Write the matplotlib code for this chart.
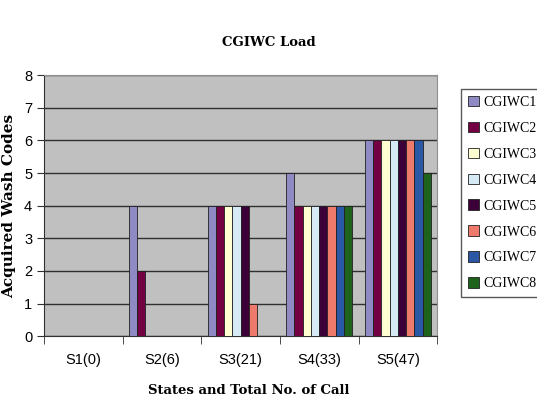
import matplotlib.pyplot as plt
import numpy as np

# Data
states = ['S1(0)', 'S2(6)', 'S3(21)', 'S4(33)', 'S5(47)']
series = ['CGIWC1', 'CGIWC2', 'CGIWC3', 'CGIWC4',
          'CGIWC5', 'CGIWC6', 'CGIWC7', 'CGIWC8']
cgiwc1 = [0, 4, 4, 5, 6]
cgiwc2 = [0, 2, 4, 4, 6]
cgiwc3 = [0, 0, 4, 4, 6]
cgiwc4 = [0, 0, 4, 4, 6]
cgiwc5 = [0, 0, 4, 4, 6]
cgiwc6 = [0, 0, 1, 4, 6]
cgiwc7 = [0, 0, 0, 4, 6]
cgiwc8 = [0, 0, 0, 4, 5]
values = [cgiwc1, cgiwc2, cgiwc3, cgiwc4, cgiwc5, cgiwc6, cgiwc7, cgiwc8]

colors = ['#8F8AC4', '#740044', '#FFFFD2', '#D6EAF6',
          '#3C0038', '#EE7A6C', '#2B58A4', '#1F621C']

fig = plt.figure(figsize=(5.37, 4.04), dpi=100)
ax = fig.add_axes([0.082, 0.168, 0.732, 0.646])
ax.set_facecolor('#C0C0C0')

x = np.arange(len(states))
group = 0.84
w = group / len(series)
for i, (name, vals) in enumerate(zip(series, values)):
    pos = x - group / 2 + w * (i + 0.5)
    ax.bar(pos, vals, width=w, color=colors[i], edgecolor='#202020',
           linewidth=0.6, label=name, zorder=3)

ax.set_xlim(-0.5, len(states) - 0.5)
ax.set_ylim(0, 8)
ax.set_yticks(range(0, 9))
ax.yaxis.grid(True, color='#303030', linewidth=1.0, zorder=1)
ax.set_axisbelow(True)

# category labels centred, ticks at the boundaries
ax.set_xticks(x)
ax.set_xticklabels(states, fontsize=10.5, family='Liberation Sans')
ax.tick_params(axis='x', which='major', length=0, pad=12)
ax.set_xticks(np.arange(-0.5, len(states)), minor=True)
ax.tick_params(axis='x', which='minor', length=6, direction='out', color='#303030')
ax.tick_params(axis='y', length=5, direction='out', color='#303030', labelsize=10.5)
for lab in ax.get_yticklabels():
    lab.set_family('Liberation Sans')

for side in ['top', 'right']:
    ax.spines[side].set_color('#909090')
for side in ['left', 'bottom']:
    ax.spines[side].set_color('#303030')

ax.set_ylabel('Acquired Wash Codes', fontsize=11, fontweight='bold',
              family='DejaVu Serif', labelpad=6)
fig.text(0.463, 0.025, 'States and Total No. of Call', ha='center',
         fontsize=9.5, fontweight='bold', family='DejaVu Serif')
fig.text(0.5, 0.885, 'CGIWC Load', ha='center', fontsize=9.5,
         fontweight='bold', family='DejaVu Serif')

leg = fig.legend(loc='upper left', bbox_to_anchor=(0.858, 0.78),
                 frameon=True, fancybox=False, edgecolor='#303030',
                 prop={'family': 'Liberation Serif', 'size': 10},
                 handlelength=0.8, handleheight=0.8, handletextpad=0.3,
                 labelspacing=0.92, borderpad=0.5, borderaxespad=0)

plt.savefig('out.png', dpi=100)
